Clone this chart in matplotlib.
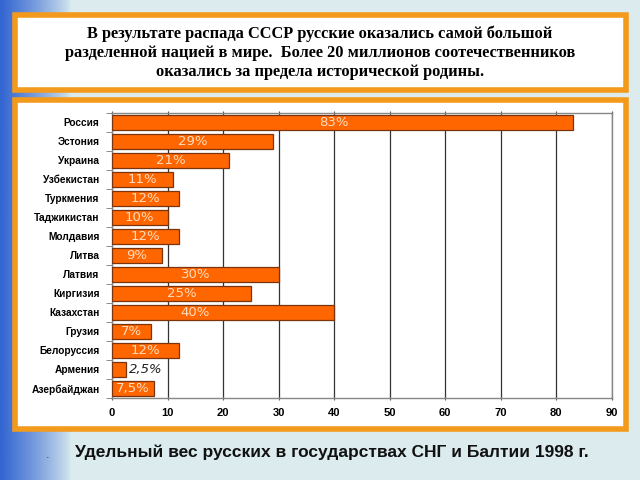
import numpy as np
import matplotlib
matplotlib.use("Agg")
import matplotlib.pyplot as plt
from matplotlib.patches import Rectangle

countries = ['Россия', 'Эстония', 'Украина', 'Узбекистан', 'Туркмения',
             'Таджикистан', 'Молдавия', 'Литва', 'Латвия', 'Киргизия',
             'Казахстан', 'Грузия', 'Белоруссия', 'Армения', 'Азербайджан']
shares = [83, 29, 21, 11, 12, 10, 12, 9, 30, 25, 40, 7, 12, 2.5, 7.5]
share_labels = ['83%', '29%', '21%', '11%', '12%', '10%', '12%', '9%',
                '30%', '25%', '40%', '7%', '12%', '2,5%', '7,5%']
x_ticks = [0, 10, 20, 30, 40, 50, 60, 70, 80, 90]

title = ('В результате распада СССР русские оказались самой большой\n'
         'разделенной нацией в мире.  Более 20 миллионов соотечественников\n'
         'оказались за предела исторической родины.')
caption = 'Удельный вес русских в государствах СНГ и Балтии 1998 г.'

BG = '#dcecee'
ORANGE = '#f39a1c'
BAR = '#ff6600'

fig = plt.figure(figsize=(6.4, 4.8), dpi=100)
fig.patch.set_facecolor(BG)

# background with the blue strip on the left
bg = fig.add_axes([0, 0, 1, 1], zorder=-5)
bg.axis('off')
grad = np.linspace(0, 1, 256)
strip = np.clip(1 - grad / 0.11, 0, 1) ** 0.8
c0 = np.array([0.20, 0.40, 0.82])
c1 = np.array([0.86, 0.925, 0.935])
img = c1[None, :] * (1 - strip[:, None]) + c0[None, :] * strip[:, None]
img = np.repeat(img[None, :, :], 2, axis=0)
bg.imshow(img, aspect='auto', extent=[0, 1, 0, 1])
bg.set_xlim(0, 1)
bg.set_ylim(0, 1)

# white boxes with orange frames
bg.add_patch(Rectangle((0.024, 0.812), 0.954, 0.157, facecolor='white',
                       edgecolor=ORANGE, lw=4, transform=fig.transFigure))
bg.add_patch(Rectangle((0.024, 0.106), 0.954, 0.685, facecolor='white',
                       edgecolor=ORANGE, lw=4, transform=fig.transFigure))

fig.text(0.5, 0.891, title, ha='center', va='center', fontsize=11.8,
         family='Liberation Serif', fontweight='bold', linespacing=1.25)
fig.text(0.117, 0.058, caption, ha='left', va='center', fontsize=12.5,
         family='Liberation Sans', fontweight='bold', color='#111111')
fig.text(0.074, 0.052, '.', ha='center', va='center', fontsize=8, color='#333333')

ax = fig.add_axes([0.175, 0.171, 0.781, 0.594])
y = np.arange(len(countries))
bars = ax.barh(y, shares, height=0.78, color=BAR, edgecolor='#7a3510',
               linewidth=0.9, zorder=3)
ax.set_ylim(len(countries) - 0.5, -0.5)
ax.set_xlim(0, 90)
ax.set_xticks(x_ticks)
ax.set_xticklabels([str(t) for t in x_ticks], fontsize=8,
                   fontweight='bold', family='Liberation Sans')
ax.set_yticks(y)
ax.set_yticklabels(countries, fontsize=7.3, fontweight='bold',
                   family='Liberation Sans')
ax.set_yticks(np.arange(len(countries) + 1) - 0.5, minor=True)
ax.tick_params(axis='y', which='major', length=0, pad=9)
ax.tick_params(axis='y', which='minor', length=4, color='#777777')
ax.tick_params(axis='x', which='major', length=3, top=True, direction='inout',
               color='#555555', pad=6)
ax.xaxis.grid(True, color='#333333', lw=0.9, zorder=1)
for s in ax.spines.values():
    s.set_color('#888888')
    s.set_linewidth(1)

for b, v, lab in zip(bars, shares, share_labels):
    yc = b.get_y() + b.get_height() / 2
    if v < 5:
        ax.text(v + 0.6, yc, lab, ha='left', va='center', fontsize=9.5,
                color='#222222', style='italic', zorder=4)
    else:
        ax.text(min(v / 2, 15), yc, lab, ha='center', va='center',
                fontsize=9.5, color='#ffdcc0', zorder=4)
# the longest bar has its label further right
ax.texts[-15].set_x(shares[0] / 2 - 1.5)

fig.savefig('out.png', dpi=100, facecolor=fig.get_facecolor())
